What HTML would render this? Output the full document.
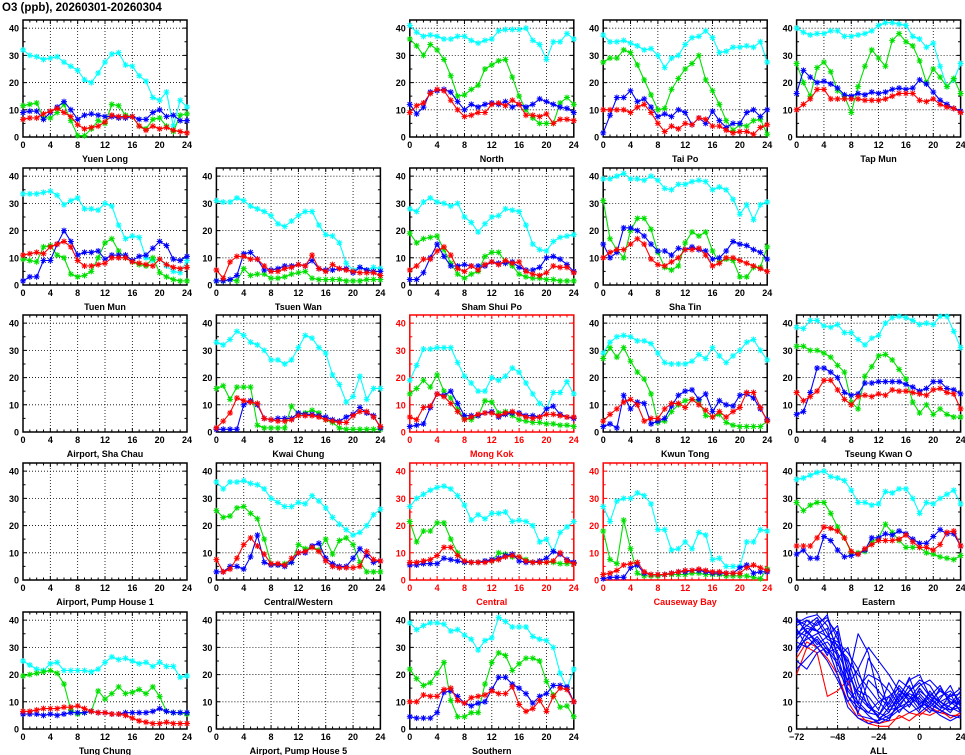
<!DOCTYPE html>
<html><head><meta charset="utf-8">
<style>
html,body{margin:0;padding:0;background:#fff;}
svg{display:block;font-family:"Liberation Sans",sans-serif;}
</style></head>
<body>
<svg id="chart" width="965" height="755" viewBox="0 0 965 755" xmlns="http://www.w3.org/2000/svg">
<text x="2" y="11" font-size="11.5" font-weight="bold" fill="#000">O3 (ppb), 20260301-20260304</text>
</svg>
<script>
// ---------- data ----------
const stationNames = ["Yuen Long","North","Tai Po","Tap Mun","Tuen Mun","Tsuen Wan","Sham Shui Po","Sha Tin","Kwai Chung","Mong Kok","Kwun Tong","Tseung Kwan O","Central/Western","Central","Causeway Bay","Eastern","Tung Chung","Southern"];
const hours = [0,1,2,3,4,5,6,7,8,9,10,11,12,13,14,15,16,17,18,19,20,21,22,23,24];
const yTicks = [0,10,20,30,40];
const xTicks = [0,4,8,12,16,20,24];
const allXTicks = [-72,-48,-24,0,24];
const allHours = [-72,-66,-60,-54,-48,-42,-36,-30,-24,-18,-12,-6,0,6,12,18,24];

const cyanSeries = [
[32,30,29.5,28.5,29,29.5,27.5,26,24.5,21,20,23.5,27.5,30.5,31,26.5,26,22.5,20.5,14.5,13.5,16.5,4,13.5,11],
[41,38.5,37,37.5,37,36,36,37,37,35.5,34.5,35.5,36,39,39.5,39.5,39.5,40,35.5,34,28.5,35,35,38,36],
[37.5,35,35,35.5,34.5,33.5,32,32.5,30,25.5,29,30,34,36.5,37,39,36.5,31,31.5,33,33,33.5,33,35,27.5],
[40,38.5,37.5,38,38,39,39,37,37,37.5,38,39,41,42,42,41.5,41,37,36,33,34.5,26,18.5,21,27],
[33.5,33.5,33.5,34,34.5,33,29.5,31,32,28,28,27.5,30,29,22,17,18,17.5,10,9,9.5,7,5,4.5,9],
[31,30.5,30.5,32,31,29,28,27,25.5,22.5,21.5,23.5,25.5,27,27,22,18.5,18,15.5,8,5.5,6.5,5.5,6.5,6],
[28,27,30.5,32,30.5,30,29,30,25,23,19.5,22.5,25,25.5,28,27.5,27,22,15,13,12.5,16,17.5,18,18.5],
[39,39,40,41,39,39,38.5,40,38.5,35.5,35,37,37,38,38.5,38,35,36,35,31.5,26,29.5,24,29.5,30.5],
[33,32,34,37,35.5,33,32,30,26.5,26.5,25,26.5,31,35.5,34.5,31,29,21,17.5,11,13,20.5,12,16,16],
[19,24.5,30.5,30.5,31,31,31,25.5,20.5,18,15,15,20,19,20.5,23.5,22,18,14,10.5,8.5,14.5,14.5,18.5,14],
[29,33,35,35.5,35,33.5,33.5,32.5,29,25.5,25,25,25,26,28.5,27,31,28,25.5,28,30,33,34,30,26.5],
[38.5,38,41,41,39,38.5,39.5,36.5,36.5,34,32,34.5,35.5,40,42,42.5,42,41,39.5,40,39.5,42.5,42.5,37,31],
[36,33.5,36,36,36.5,35.5,35,33.5,30,28.5,27,27,28.5,28,31,29,26.5,23,20.5,18.5,16.5,17.5,20,24,26],
[27,30,31.5,33,34,34.5,33.5,31,27.5,22,24,22.5,24.5,24.5,25,21.5,22,21.5,20,14,15,10.5,17.5,19.5,21.5],
[27,21.5,29,30,30,32,31,28,18.5,18.5,11,11.5,14,11.5,17.5,16.5,7.5,8,5,5,5,14,14,18.5,18],
[37,37.5,38.5,39.5,40,38,37.5,36.5,33,28.5,28.5,27.5,28,32.5,32,33.5,33.5,30,24.5,28.5,28,30,31.5,33,28],
[25,23.5,22,21.5,24,24.5,21.5,21.5,21.5,21.5,21,22,24.5,26.5,25.5,26,25,24,24.5,23,24.5,23,23,19,19.5],
[39,36.5,38,39,39,38.5,36,36.5,34.5,33,29,32.5,33.5,41,39.5,37.5,37.5,37.5,34,33,32.5,30,20.5,15,22]
];
const greenSeries = [
[11.5,12,12.5,7,7,9,12,6,0.5,0.5,3,6,5,12,11.5,8,7.5,4,3,6.5,7,4,2,8,8.5],
[36,33.5,30,34,32,28.5,22.5,15,15.5,17.5,19,25,26.5,28,28.5,22,15,10,7,5,5,5,12.5,14.5,12],
[27.5,29,29,32,31,26.5,21,15.5,10,10.5,17.5,21.5,25,27,30,21,17,12,6,2.5,4.5,4,6,6.5,1],
[27,20,15,25.5,27.5,24,17,15,9,18.5,26,32,29,26,35.5,38,35,33.5,28,20,25,22,18.5,21.5,16],
[9.5,9,8.5,14,14.5,11,10,4,3,3.5,5,10,15.5,17,12.5,10,8.5,7.5,7,10,4.5,3,2,1.5,1.5],
[1.5,1.5,2,1.5,6,3.5,4,4,2.5,2.5,3,4,4.5,5,2.5,2,2,2,2,1.5,1.5,1.5,2,2,2],
[19,15.5,17,17.5,18,13,8,4,2.5,4,5,10.5,12,12,8.5,7,4,3,2.5,2.5,2,2,1.5,1.5,1.5],
[31,17,13,10,20,24.5,24.5,20.5,12,6.5,5.5,7,15.5,19.5,18,19.5,12.5,8.5,9.5,9,3,3,6.5,6.5,14],
[16,17,12,16.5,16.5,16.5,2.5,1.5,1.5,1.5,1.5,9.5,6.5,7,8,7,4.5,3.5,1.5,1,1,1,1,1,1],
[14,16,19,16.5,21,15,12.5,8.5,5,4.5,6,11.5,11,7,7.5,6,4.5,4,3.5,3.5,3,3,2.5,2.5,2],
[27,31,27.5,31,26,22,19.5,14,3.5,4,7.5,10,11.5,12,11.5,6,5.5,6.5,3.5,2.5,2,2,2,2,4],
[31.5,31.5,30,30,29,27.5,24.5,22,11,8.5,20.5,24,28,28.5,26.5,23,19.5,11,7,10,6.5,8.5,6.5,5.5,5.5],
[25.5,23,23.5,26.5,27,24.5,22.5,15,6,5.5,6,6.5,13,11.5,12,11,15,9.5,14.5,15.5,13,6.5,3,3,3],
[21.5,14,18,18,21,21,15,10,6.5,6.5,6.5,7,7,10,9.5,8.5,8.5,7.5,6.5,6.5,6.5,6.5,6,6,6],
[18,7.5,6,22,11.5,2.5,1.5,1.5,1.5,2,2,2,2,2.5,2.5,2,2,2,1.5,1.5,1.5,1.5,1,0.5,4],
[28.5,25.5,27.5,28.5,28.5,24.5,19.5,15.5,10,10,10.5,14,15.5,20.5,17.5,14.5,12,12,12,10,9.5,8.5,8,7.5,9],
[19.5,20,20.5,21,21.5,20.5,16.5,7,5.5,6,6.5,14,11,13,15.5,13,13.5,14.5,13,15.5,12,6.5,6,6,5.5],
[22,18.5,16,17,20.5,24.5,10.5,4.5,4.5,6,6,16.5,24.5,28,27,21.5,24,26,26,25,17.5,12.5,8,8.5,4.5]
];
const blueSeries = [
[9,9.5,9.5,6.5,9,11,13,10,6.5,8,8.5,8,7.5,7.5,7,7,7.5,6.5,6.5,9,10,7.5,8,6,6],
[12,8.5,11,16.5,17,17.5,16.5,13,10,12,11,12,12.5,12,13,11,12,11,12,14,13,12,11,10.5,9],
[1.5,8,14.5,14.5,17,13,14,11,7.5,8.5,7.5,10,9,4.5,7,5,9.5,6,3.5,5,5,9,10,7.5,10],
[16,24.5,22,20,20.5,19.5,18,15.5,15,16,15.5,16.5,16,16.5,17.5,18,17.5,18,21,19.5,16.5,13.5,12,10.5,9.5],
[1.5,3,3,9,9,15,20,16,11,12,12,12.5,9.5,11,11,11,9,10.5,11,13.5,16,14.5,9.5,9,10.5],
[1.5,1.5,2,3.5,11.5,12,9.5,5.5,5.5,6,7,7,7.5,7,9,6,5.5,5.5,6,6,4.5,6.5,5.5,5,5],
[2,2,4.5,10,15,10.5,7,7,7.5,7,7,7,8.5,8,8,8.5,6.5,5.5,5.5,6.5,10,10.5,9.5,7.5,5],
[15,10,12,21,21,20,18,15,12.5,12.5,11,13.5,13,14,13,12.5,9.5,10,12.5,16,15,14.5,13,12,9.5],
[1,1,1,1,10,11.5,10,5,4.5,5,5,5,7,6.5,6.5,6,5.5,4.5,4,5.5,6.5,9,7,6,1.5],
[2,2.5,3,9,14,13.5,15,10.5,6,6,6,7,7.5,5.5,6.5,7,7,6,6,5.5,8.5,9.5,6.5,5.5,5],
[2,3,1.5,13.5,8.5,11,10.5,3,4,5,9.5,13.5,15,15.5,12,14,7.5,11.5,10,9.5,13.5,14,12.5,8.5,4.5],
[6.5,7.5,14.5,23.5,23.5,22,20,14.5,13.5,14,18,18,18.5,18.5,18.5,18.5,17.5,16.5,15,16,18.5,18.5,16,15.5,14],
[3,3,5,5,4,8.5,16.5,6.5,5.5,5.5,5,6.5,10,10,12.5,13.5,8,6,5,5,8,11.5,9,6.5,7],
[5.5,5.5,6,6,6,8,7.5,7,6.5,6.5,6.5,7,7.5,8,9,9.5,7,6.5,6.5,7,8,10.5,9.5,7.5,6.5],
[0.5,1,1,1,4.5,5.5,2.5,2,2,2,2.5,3,3,3.5,3.5,3,2.5,2.5,2.5,2.5,4.5,5.5,2.5,3,3],
[9.5,11,8,8,16,14.5,11,8.5,9,9.5,11,15.5,15.5,17,16.5,18,17,15,13.5,13.5,16,18.5,17,17,12.5],
[5.5,5.5,5.5,5,5.5,5,5.5,6,6,6,6.5,6,6,5.5,5.5,6,6,6,6,6.5,7.5,6.5,6,6,6],
[4.5,4,4,4,6,13.5,14,12,9.5,8.5,9.5,10,14.5,19,19,16.5,15,13,9.5,12,13,16,16,15.5,10]
];
const redSeries = [
[6.5,7,7,8.5,9.5,10.5,9,7.5,4.5,3,3.5,4,5.5,8,7.5,7.5,7.5,4,2.5,4,3,3.5,2.5,2,1.5],
[9,11.5,12.5,16,17.5,17,13.5,10,7.5,8,9,9,12,12.5,11.5,13.5,12,8,8,7.5,8.5,5,6.5,6.5,6],
[10,10,10,10,9,11,12,9,5,2,4,3,5,4.5,7,6.5,4,4,2.5,1.5,2,2,1,3.5,4.5],
[10,12,14,17.5,17.5,14,14,14,14,14,13.5,13.5,13.5,14,15,16,16,16,13.5,13,14,12,11,10.5,9],
[11,11.5,12,11.5,14,15,16,14,9,7,7,7.5,8,10,10,10,8.5,8,7.5,7,9.5,7.5,6.5,6,6.5],
[5.5,2.5,8.5,10.5,10.5,9.5,9.5,7,5,5,6,6.5,7.5,7,11,6,5,7.5,6,5.5,5,4.5,4.5,4.5,3.5],
[5.5,7,9.5,9.5,12.5,14,11,6,5,7,5.5,7.5,8.5,7.5,9,8,8.5,5,4,3.5,4.5,7,6.5,6.5,4.5],
[10,12,13,13,15,17,15,9.5,7.5,7,8.5,10,13,13,13.5,11,7,8,10,10,9,8,7,6,5],
[1.5,4,7,12.5,11.5,11,10.5,5,4.5,4,4,4.5,6,6,6,5.5,4.5,4,3.5,3.5,6,7.5,7.5,5.5,2],
[5.5,4.5,9,9.5,14,13,10.5,7.5,4.5,5.5,6.5,7,7,6,7,7.5,6.5,5.5,5,5.5,6.5,6.5,6,5.5,5.5],
[4,6.5,8.5,11,12,10,4,5,5,8.5,10.5,10.5,9,12,10,8,5.5,7.5,5.5,7.5,9,14.5,14.5,9,4],
[14.5,11.5,13,15,19,19,15.5,12,10,13,13.5,13,14,13.5,15.5,15,15,14.5,14,13.5,15.5,16,14.5,14,8.5],
[7.5,3,4,8,13,15.5,12.5,9.5,6,6,5.5,8,10,10.5,12,10.5,7,5,4.5,4.5,4.5,5,10.5,7.5,7],
[6.5,6.5,7,7.5,9,12,12,9,7,6.5,6.5,6.5,7,7.5,8.5,9,8.5,7,6.5,6.5,6.5,7,10,7,6],
[2,2.5,3.5,5.5,6,6.5,3,2,2,2,2.5,3,3.5,3.5,4,3.5,3,3,2.5,2.5,2.5,4.5,5.5,4.5,3.5],
[12.5,12.5,12.5,15.5,19.5,19,18,15.5,10.5,9.5,11.5,13,14.5,14.5,14.5,15,16.5,14,12,12,11,13,17.5,18,12.5],
[6.5,6.5,7,7.5,7.5,7.5,8,8,8.5,7.5,6.5,6,6,5.5,5.5,5,4,3,2.5,2,2,2.5,2,2,2],
[10,10,12.5,12,12,14.5,15,10.5,9.5,11.5,12,12.5,14,13,13,15.5,9,6.5,7.5,10.5,6.5,12,15,14.5,10]
];
const allBlueLines = [
[38,40,36,30,25,12,8,6,10,12,15,10,14,11,8,10,9],
[35,38,41,35,28,20,5,4,3,8,14,12,9,13,10,7,8],
[30,33,35,37,22,15,10,6,5,10,18,15,10,8,12,14,10],
[40,36,32,28,30,25,20,15,10,6,12,18,20,12,10,8,6],
[25,22,28,30,20,8,4,2,3,5,8,10,6,9,7,5,4],
[32,30,34,29,24,18,35,28,12,8,10,14,18,16,10,12,13],
[36,34,30,25,18,10,15,20,18,14,9,6,8,10,14,11,9],
[28,34,39,41,33,22,12,8,6,4,9,13,11,7,6,9,14],
[40,38,36,34,32,28,22,30,25,20,14,11,16,18,14,12,15],
[22,26,30,32,27,14,9,5,2,4,7,9,12,8,5,3,5],
[39,41,42,38,30,26,14,12,7,17,10,16,8,12,16,9,12],
[33,37,36,40,35,16,22,10,4,6,13,8,15,10,7,13,6],
[37,30,33,27,36,12,6,18,14,9,16,12,7,14,9,6,11],
[34,40,38,42,26,30,17,8,5,12,6,11,13,9,15,10,7],
[29,36,31,34,38,20,13,9,4,3,11,19,9,6,11,16,8],
[41,35,40,33,31,24,9,26,20,7,8,14,17,12,8,7,10]
];
const allRedLines = [
[20,30,28,12,14,18,6,2,1,1,5,3,6,5,7,4,6],
[26,32,30,26,20,10,4,3,2,3,4,6,5,8,6,5,5]
];

// panel layout: name, row, col, highlighted, data index (-1 = empty frame)
const panels = [
["Yuen Long",0,0,false,0],["North",0,2,false,1],["Tai Po",0,3,false,2],["Tap Mun",0,4,false,3],
["Tuen Mun",1,0,false,4],["Tsuen Wan",1,1,false,5],["Sham Shui Po",1,2,false,6],["Sha Tin",1,3,false,7],
["Airport, Sha Chau",2,0,false,-1],["Kwai Chung",2,1,false,8],["Mong Kok",2,2,true,9],["Kwun Tong",2,3,false,10],["Tseung Kwan O",2,4,false,11],
["Airport, Pump House 1",3,0,false,-1],["Central/Western",3,1,false,12],["Central",3,2,true,13],["Causeway Bay",3,3,true,14],["Eastern",3,4,false,15],
["Tung Chung",4,0,false,16],["Airport, Pump House 5",4,1,false,-1],["Southern",4,2,false,17]
];

// ---------- drawing ----------
const NS = "http://www.w3.org/2000/svg";
const svg = document.getElementById("chart");
const COLX = [23,216.4,409.8,603.2,796.6];
const ROWB = [137,285,432,580,729];
const PW = 164, PH = 117, YMAX = 43;
const COLORS = {cyan:"#00ffff", green:"#00e000", blue:"#0000ff", red:"#ff0000"};

function mk(tag, attrs, parent){
  const e = document.createElementNS(NS, tag);
  for (const k in attrs) e.setAttribute(k, attrs[k]);
  (parent||svg).appendChild(e);
  return e;
}

function drawFrame(g, x0, yb, xmin, xmax, xt, minorStep, col, label){
  const sx = v => x0 + (v - xmin) / (xmax - xmin) * PW;
  const sy = v => yb - v / YMAX * PH;
  xt.forEach(t => {
    if (t === xmin || t === xmax) return;
    const l = mk("line",{x1:sx(t),x2:sx(t),y1:yb,y2:yb-PH,stroke:"#000","stroke-width":0.8,"stroke-dasharray":"1,2"},g);
    
    
  });
  yTicks.forEach(t => {
    if (t === 0) return;
    const l = mk("line",{x1:x0,x2:x0+PW,y1:sy(t),y2:sy(t),stroke:"#000","stroke-width":0.8,"stroke-dasharray":"1,2"},g);
    
    
  });
  let d = "";
  for (let v = xmin; v <= xmax; v += minorStep) {
    const len = xt.includes(v) ? 4 : 2.5;
    d += `M${sx(v)} ${yb}v${-len}M${sx(v)} ${yb-PH}v${len}`;
  }
  for (let v = 0; v <= 40; v += 5) {
    const len = v % 10 === 0 ? 4 : 2.5;
    d += `M${x0} ${sy(v)}h${len}M${x0+PW} ${sy(v)}h${-len}`;
  }
  const tk = mk("path",{d:d,stroke:col,"stroke-width":1,fill:"none"},g);
  
  
  const fr = mk("rect",{x:x0,y:yb-PH,width:PW,height:PH,fill:"none",stroke:col,"stroke-width":1.5},g);
  
  
  yTicks.forEach(t => {
    const tx = mk("text",{x:x0-4,y:sy(t)+3.5,"text-anchor":"end","font-size":9,"font-weight":"bold",fill:col},g);
    tx.textContent = t;
    
    
  });
  xt.forEach(t => {
    const tx = mk("text",{x:sx(t),y:yb+11,"text-anchor":"middle","font-size":9,"font-weight":"bold",fill:col},g);
    tx.textContent = t < 0 ? "\u2212" + (-t) : t;
    
    
  });
  const lb = mk("text",{x:x0+PW/2,y:yb+25,"text-anchor":"middle","font-size":9,"font-weight":"bold",fill:col},g);
  lb.textContent = label;
  
  
  return {sx, sy};
}

function drawSeries(g, s, xs, vals, color, markers, name){
  let d = "";
  vals.forEach((v,i) => { d += (i ? "L" : "M") + s.sx(xs[i]) + " " + s.sy(v); });
  const ln = mk("path",{d:d,stroke:color,"stroke-width":1.1,fill:"none","stroke-linejoin":"round"},g);
  
  
  if (!markers) return;
  let m = "";
  vals.forEach((v,i) => {
    const x = s.sx(xs[i]), y = s.sy(v);
    m += `M${x-3} ${y}h6M${x} ${y-3}v6M${x-2.2} ${y-2.2}l4.4 4.4M${x-2.2} ${y+2.2}l4.4 -4.4`;
  });
  const mp = mk("path",{d:m,stroke:color,"stroke-width":1,fill:"none"},g);
  
  
}

panels.forEach(p => {
  const [label,row,col,hi,idx] = p;
  const g = mk("g",{});
  
  
  const color = hi ? "#ff0000" : "#000";
  const s = drawFrame(g, COLX[col], ROWB[row], 0, 24, xTicks, 1, color, label);
  if (idx < 0) return;
  drawSeries(g, s, hours, cyanSeries[idx], COLORS.cyan, true, 'cyan-series');
  drawSeries(g, s, hours, greenSeries[idx], COLORS.green, true, 'green-series');
  drawSeries(g, s, hours, blueSeries[idx], COLORS.blue, true, 'blue-series');
  drawSeries(g, s, hours, redSeries[idx], COLORS.red, true, 'red-series');
});

// ALL panel
(function(){
  const g = mk("g",{});
  
  
  const s = drawFrame(g, COLX[4], ROWB[4], -72, 24, allXTicks, 6, "#000", "ALL");
  allRedLines.forEach(v => drawSeries(g, s, allHours, v, COLORS.red, false, 'all-red'));
  allBlueLines.forEach(v => drawSeries(g, s, allHours, v, COLORS.blue, false, 'all-blue'));
})();
</script>
</body></html>
